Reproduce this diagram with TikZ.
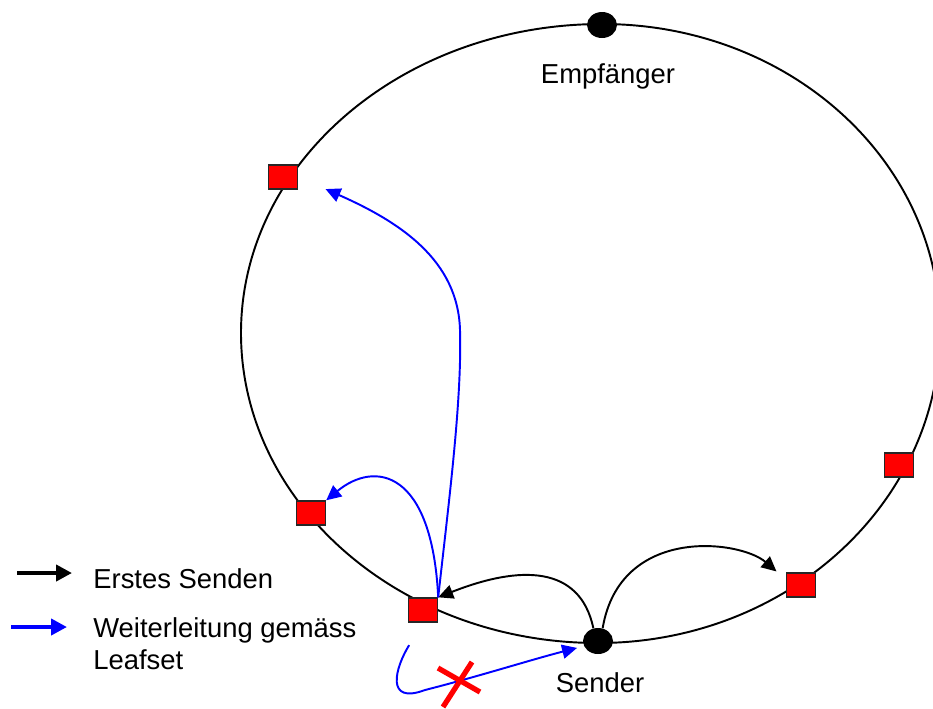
\documentclass[tikz,border=0pt]{standalone}
\usepackage{fontspec}
\setmainfont{Liberation Sans}
\usepackage{tikz}
\usetikzlibrary{arrows.meta}
\usetikzlibrary{shapes.geometric}
\usetikzlibrary{positioning}

\begin{document}
\begin{tikzpicture}[x=0.02cm, y=-0.02cm,
        peer/.style={draw=black!85, fill=red, line width=0.8pt, rectangle, minimum width=0.58cm, minimum height=0.48cm, inner sep=0pt},
        station/.style={fill=black, ellipse, minimum width=0.6cm, minimum height=0.52cm, inner sep=0pt},
        first/.style={black, line width=1.1pt, -{Triangle[length=8.5pt, width=8pt]}},
        fwd/.style={blue, line width=1.1pt, -{Triangle[length=8.5pt, width=8pt]}},
        legarrow/.style={line width=2.3pt, -{Triangle[length=9pt, width=9pt]}},
        cut/.style={red, line width=3pt},
        lbl/.style={font=\fontsize{15.6}{18}\selectfont, inner sep=0pt}]
        \useasboundingbox (0,0) rectangle (933,708);
        \clip (0,0) rectangle (933,708);
        \draw [line width=1.1pt] (602,24) .. controls (789,24) and (940,160) .. (940,330)
            .. controls (940,503) and (787,643) .. (598,643)
            .. controls (401,643) and (241,504) .. (241,333)
            .. controls (241,162) and (403,24) .. (602,24) -- cycle;
        \node [station] (rcv) at (602,25) {};
        \node [station] (snd) at (598,641) {};
        \foreach \n/\x/\y in {l1/283/177, l2/311/513, l3/423/610, r1/801/585, r2/899/465}
            \node [peer] (\n) at (\x,\y) {};
        \node [lbl, anchor=base] (rcvlbl) at (608,83) {Empfänger};
        \node [lbl, anchor=base] (sndlbl) at (600,692) {Sender};
        \draw [first] (snd.110) .. controls (580,565) and (520,565) .. (l3.north east);
        \draw [first, shorten >=7pt] (snd.70) .. controls (620,525) and (740,540) .. (r1.160);
        \draw [fwd, shorten >=17pt] (l3.north east) .. controls (449,500) and (462,400) .. (460,330)
            .. controls (458,260) and (400,222) .. (l1.east);
        \draw [fwd] (l3.north east) .. controls (432,470) and (375,460) .. (l2.north east);
        \draw [fwd, shorten <=15pt, shorten >=4pt] (l3.south) .. controls (395,668) and (385,705) .. (425,690)
            .. controls (480,676) and (530,660) .. (snd.200);
        \draw [cut] (438,668) -- (480,692);
        \draw [cut] (472,662) -- (443,707);
        \coordinate (lgA0) at (17,573);
        \coordinate (lgA1) at (72,573);
        \coordinate (lgB0) at (11,627);
        \coordinate (lgB1) at (67,627);
        \draw [legarrow, black] (lgA0) -- (lgA1);
        \draw [legarrow, blue] (lgB0) -- (lgB1);
        \node [lbl, anchor=base west] (lgAtxt) at (93,588) {Erstes Senden};
        \node [lbl, anchor=base west, align=left] (lgBtxt) at (93,669) {Weiterleitung gemäss\\Leafset};
\end{tikzpicture}
\end{document}
